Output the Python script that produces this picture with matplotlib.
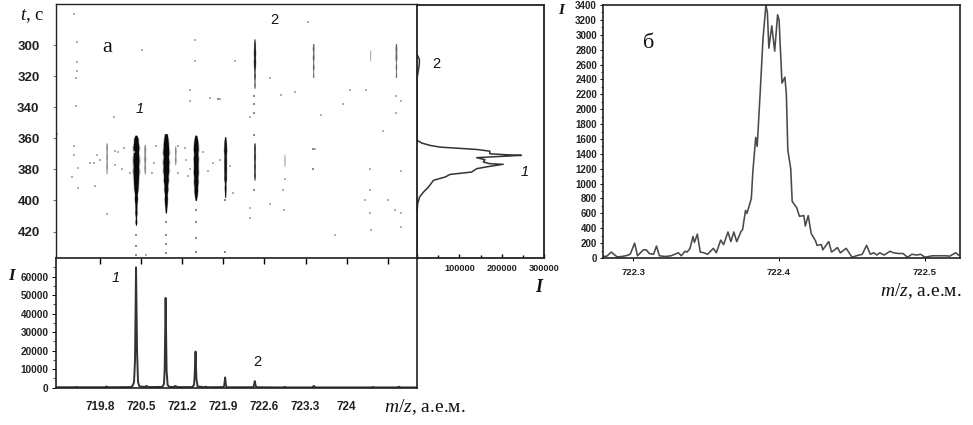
import matplotlib
matplotlib.use("Agg")
import matplotlib.pyplot as plt

plt.rcParams['font.family'] = ['Liberation Sans', 'DejaVu Sans']
plt.rcParams['mathtext.fontset'] = 'custom'
plt.rcParams['mathtext.it'] = 'Liberation Serif:italic'
plt.rcParams['mathtext.rm'] = 'Liberation Serif'

W, H = 973, 425

# heat map: m/z centre, grey, t list, half width list of each streak
streak_mz = [720.41, 720.92, 721.43, 721.93, 722.43, 722.43, 723.43, 724.40, 724.84, 719.91, 720.56, 721.08, 722.94]
streak_grey = ['#0a0a0a', '#0a0a0a', '#0a0a0a', '#141414', '#222222', '#2a2a2a', '#666666', '#aaaaaa', '#666666',
               '#8a8a8a', '#8a8a8a', '#8a8a8a', '#a5a5a5']
streak_t = [
    [358, 360, 363, 366, 369, 372, 375, 378, 381, 384, 387, 390, 393, 396, 399, 402, 405, 408, 411, 414, 416],
    [357, 360, 363, 366, 369, 372, 375, 378, 381, 384, 387, 390, 393, 396, 399, 402, 405, 408],
    [358, 361, 364, 367, 370, 373, 376, 379, 382, 385, 388, 391, 394, 397, 400],
    [359, 362, 365, 368, 371, 374, 377, 380, 383, 386, 389, 392, 395, 398],
    [296, 299, 302, 305, 308, 311, 314, 317, 320, 323, 326, 328],
    [363, 366, 369, 372, 375, 378, 381, 384, 387],
    [299, 302, 305, 308, 311, 314, 317, 320, 321],
    [303, 306, 310],
    [299, 302, 305, 308, 311, 314, 317, 320, 321],
    [363, 366, 369, 372, 375, 378, 381, 383],
    [364, 367, 370, 373, 376, 379, 383],
    [365, 368, 371, 374, 377],
    [370, 374, 378],
]
streak_hw = [
    [0.015, 0.035, 0.04, 0.052, 0.042, 0.05, 0.052, 0.045, 0.052, 0.045, 0.042, 0.038, 0.034, 0.022, 0.026, 0.018, 0.015, 0.018, 0.009, 0.015, 0.005],
    [0.022, 0.034, 0.042, 0.045, 0.052, 0.042, 0.052, 0.045, 0.05, 0.038, 0.042, 0.03, 0.034, 0.022, 0.026, 0.022, 0.015, 0.009],
    [0.015, 0.03, 0.038, 0.042, 0.034, 0.042, 0.038, 0.038, 0.042, 0.034, 0.038, 0.03, 0.03, 0.022, 0.009],
    [0.009, 0.019, 0.022, 0.026, 0.019, 0.022, 0.021, 0.022, 0.019, 0.022, 0.011, 0.015, 0.011, 0.008],
    [0.006, 0.014, 0.015, 0.019, 0.015, 0.019, 0.015, 0.009, 0.012, 0.006, 0.009, 0.003],
    [0.009, 0.014, 0.012, 0.015, 0.011, 0.014, 0.011, 0.014, 0.005],
    [0.008, 0.015, 0.009, 0.015, 0.006, 0.014, 0.006, 0.011, 0.003],
    [0.006, 0.009, 0.006],
    [0.008, 0.015, 0.011, 0.016, 0.006, 0.012, 0.006, 0.011, 0.003],
    [0.008, 0.014, 0.009, 0.014, 0.009, 0.014, 0.008, 0.005],
    [0.009, 0.016, 0.012, 0.018, 0.011, 0.015, 0.006],
    [0.008, 0.014, 0.009, 0.014, 0.005],
    [0.005, 0.011, 0.006],
]

speck_mz = [719.35, 719.40, 719.41, 719.40, 719.39, 719.39, 719.06, 719.05, 719.35, 719.35, 719.43, 719.32, 719.43,
            719.69, 719.72, 719.91, 720.03, 720.51, 721.42, 721.42, 722.10, 721.33, 721.33, 721.81, 721.84, 721.67,
            722.35, 722.69, 722.89, 723.12, 723.34, 723.57, 723.94, 724.05, 724.33, 724.84, 724.93, 724.84, 724.62,
            723.46, 723.43, 724.39, 724.93, 722.95, 722.92, 724.40, 722.69, 722.36, 722.36, 722.93, 724.32, 724.70,
            724.82, 724.93, 724.39, 723.81, 724.42, 724.93, 720.59,
            720.06, 720.11, 720.20, 720.37, 719.63, 719.74, 719.80, 720.06, 720.17, 720.31, 720.68, 720.71, 720.76,
            721.13, 721.24, 721.27, 721.13, 721.33, 721.30, 721.56, 721.64, 721.73, 721.84, 722.01, 722.07]
speck_t = [280, 298, 311, 317, 321, 339, 357, 399, 365, 371, 379, 385, 392,
           376, 391, 409, 346, 303, 297, 310, 310, 329, 336, 335, 335, 334,
           346, 321, 332, 330, 285, 345, 338, 329, 329, 333, 336, 344, 355,
           367, 380, 380, 381, 386, 393, 393, 402, 405, 411, 406, 400, 400,
           406, 408, 408, 422, 419, 417, 435,
           368, 369, 366, 369, 376, 371, 374, 377, 380, 382, 382, 376, 365,
           365, 366, 374, 382, 380, 384, 369, 381, 376, 374, 378, 395]
tail_mz = [720.41, 720.41, 720.41, 720.92, 720.92, 720.92, 720.92, 721.43, 721.43, 721.43, 721.43, 721.93, 721.93,
           722.43, 722.43, 722.43, 722.43, 723.43, 723.43, 721.81, 722.43]
tail_t = [422, 429, 435, 414, 422, 428, 434, 406, 414, 424, 433, 400, 433,
          333, 338, 344, 358, 380, 367, 335, 393]

t_ticks = [300, 320, 340, 360, 380, 400, 420]

# m/z spectrum of the whole run
spec_mz = [719.04, 719.38, 719.40, 719.42, 719.88, 719.91, 719.94, 720.32, 720.35, 720.378, 720.395, 720.412, 720.429,
           720.446, 720.469, 720.56, 720.59, 720.62, 720.86, 720.888, 720.90, 720.916, 720.933, 720.95, 720.973,
           721.05, 721.08, 721.12, 721.37, 721.40, 721.41, 721.426, 721.44, 721.46, 721.57, 721.60, 721.63,
           721.90, 721.915, 721.93, 721.945, 721.96, 722.40, 722.42, 722.435, 722.45, 722.47, 722.92, 722.945,
           722.97, 723.41, 723.44, 723.47, 724.42, 724.45, 724.48, 724.86, 724.89, 724.92, 725.19]
spec_i = [200, 200, 400, 200, 200, 600, 200, 300, 800, 3000, 15000, 65000, 20000,
          3000, 700, 400, 900, 300, 400, 2000, 10000, 48500, 9000, 1500, 500,
          300, 900, 300, 300, 1500, 6000, 19500, 5000, 700, 200, 500, 200,
          300, 1200, 5500, 1000, 200, 200, 1000, 3500, 900, 200, 100, 400,
          100, 100, 900, 100, 100, 300, 100, 100, 500, 100, 100]
spec_yticks = [0, 10000, 20000, 30000, 40000, 50000, 60000]
mz_ticks = [719.8, 720.5, 721.2, 721.9, 722.6, 723.3, 724.0, 724.7]
mz_labels = ['719.8', '720.5', '721.2', '721.9', '722.6', '723.3', '724', '']

# total ion current against time
tic_i = [0, 5500, 5500, 0, 0, 0, 11700, 31300, 54800, 101800, 141000, 172000, 172000, 211000, 246600, 211000, 141000,
         160500, 156600, 172000, 203600, 172000, 141000, 129000, 78300, 66500, 39000, 27400, 15700, 6300, 1600, 0, 0]
tic_t = [305.4, 308.6, 311.8, 321.4, 340, 361, 362.8, 364.3, 365.4, 366.2, 366.9, 368, 369.7, 370.3, 370.7, 371.2,
         372.2, 373.5, 375, 376.1, 376.5, 377.8, 379.3, 381.5, 383, 384.7, 386.8, 391.1, 394.3, 397.5, 401.8, 408.3, 436]
tic_ticks = [0, 100000, 200000, 300000]
tic_labels = ['', '100000', '200000', '300000']

# high resolution peak
peak_mz = [722.279, 722.282, 722.285, 722.289, 722.292, 722.295, 722.298, 722.301, 722.303, 722.307, 722.309, 722.311,
           722.314, 722.316, 722.318, 722.322, 722.326, 722.331, 722.333, 722.3355, 722.337, 722.339, 722.341, 722.342,
           722.344, 722.346, 722.3485, 722.351, 722.355, 722.357, 722.360, 722.362, 722.365, 722.367, 722.369, 722.371,
           722.374, 722.375, 722.377, 722.378, 722.381, 722.382, 722.384, 722.385, 722.387, 722.389, 722.391, 722.392,
           722.393, 722.395, 722.397, 722.399, 722.400, 722.402, 722.404, 722.405, 722.406, 722.408, 722.409, 722.412,
           722.414, 722.417, 722.418, 722.420, 722.422, 722.425, 722.426, 722.429, 722.430, 722.434, 722.436, 722.440,
           722.442, 722.446, 722.450, 722.453, 722.457, 722.460, 722.4625, 722.465, 722.467, 722.469, 722.472, 722.476,
           722.4785, 722.482, 722.485, 722.488, 722.491, 722.4945, 722.497, 722.500, 722.505, 722.509, 722.514, 722.517,
           722.521, 722.523]
peak_i = [20, 25, 80, 15, 20, 30, 50, 200, 30, 110, 110, 60,
          50, 160, 30, 20, 30, 70, 30, 90, 80, 130, 290, 210,
          320, 80, 70, 50, 130, 70, 240, 180, 350, 220, 350, 220,
          360, 380, 640, 600, 800, 1150, 1620, 1500, 2200, 2950, 3400, 3300,
          2820, 3120, 2780, 3270, 3200, 2350, 2430, 2200, 1450, 1200, 760, 680,
          560, 570, 430, 570, 330, 230, 170, 180, 110, 220, 80, 140,
          70, 130, 10, 30, 50, 170, 50, 70, 40, 70, 40, 90,
          70, 60, 60, 10, 50, 40, 50, 10, 30, 30, 30, 25,
          70, 40]
peak_xticks = [722.3, 722.4, 722.5]
peak_yticks = list(range(0, 3401, 200))


def axes_px(x0, y0, x1, y1):
    return fig.add_axes([x0 / W, 1 - y1 / H, (x1 - x0) / W, (y1 - y0) / H])


def thick(ax, lw=1.3, color='#222222'):
    for s in ax.spines.values():
        s.set_linewidth(lw)
        s.set_color(color)


fig = plt.figure(figsize=(W / 100, H / 100), dpi=100)
xlim = (719.04, 725.19)
tlim = (437, 273.6)

# heat map, a wider pale copy under each streak softens the edge
ax = axes_px(55.5, 4, 416.5, 258)
for mz, grey, t, hw in zip(streak_mz, streak_grey, streak_t, streak_hw):
    ax.fill_betweenx(t, [mz - w * 1.35 for w in hw], [mz + w * 1.35 for w in hw], color=grey, alpha=0.25, lw=0)
    ax.fill_betweenx(t, [mz - w for w in hw], [mz + w for w in hw], color=grey, lw=0)
ax.scatter(speck_mz, speck_t, s=3, marker='s', color='#b0b0b0', lw=0)
ax.scatter(tail_mz, tail_t, s=4, marker='s', color='#8a8a8a', lw=0)
ax.set_xlim(xlim)
ax.set_ylim(tlim)
ax.set_xticks([])
ax.set_yticks(t_ticks)
ax.tick_params(axis='y', length=2, width=0.6, pad=9.5, labelsize=9.5, color='#555555')
for lab in ax.get_yticklabels():
    lab.set_fontweight('bold')
    lab.set_color('#222222')
thick(ax, 1.0)

# spectrum below
ax2 = axes_px(55.5, 258, 416.5, 388)
ax2.plot(spec_mz, spec_i, color='#333333', lw=1.4)
ax2.set_xlim(xlim)
ax2.set_ylim(-200, 70100)
ax2.set_xticks(mz_ticks)
ax2.set_xticklabels(mz_labels, fontsize=8.5, fontweight='bold', color='#222222')
ax2.tick_params(axis='x', direction='in', top=True, bottom=False, length=4, width=1, pad=9)
ax2.set_yticks(spec_yticks)
ax2.set_yticks([v + 5000 for v in spec_yticks], minor=True)
ax2.set_yticklabels([str(v) for v in spec_yticks], fontsize=7.2, fontweight='bold', color='#222222')
ax2.tick_params(axis='y', length=3, width=0.7, pad=2)
ax2.tick_params(axis='y', which='minor', length=2, width=0.5)
thick(ax2, 1.2)

# time profile on the right
ax3 = axes_px(417, 5, 544, 258)
ax3.plot(tic_i, tic_t, color='#333333', lw=1.1)
ax3.set_xlim(0, 300000)
ax3.set_ylim(tlim)
ax3.set_yticks([])
ax3.set_xticks(tic_ticks)
ax3.set_xticks([50000, 150000, 250000], minor=True)
ax3.set_xticklabels(tic_labels, fontsize=6.6, fontweight='bold', color='#222222')
ax3.tick_params(axis='x', direction='in', length=3, width=1, pad=4)
ax3.tick_params(axis='x', which='minor', direction='in', length=2, width=1)
thick(ax3, 1.3)

# high resolution panel
ax4 = axes_px(602.5, 5, 960, 258)
ax4.plot(peak_mz, peak_i, color='#4a4a4a', lw=1.15)
ax4.set_xlim(722.279, 722.524)
ax4.set_ylim(0, 3400)
ax4.set_xticks(peak_xticks)
ax4.set_xticklabels(['722.3', '722.4', '722.5'], fontsize=6.8, fontweight='bold', color='#222222')
ax4.tick_params(axis='x', length=2, width=0.7, pad=5)
ax4.set_yticks(peak_yticks)
ax4.set_yticks([v + 100 for v in peak_yticks[:-1]], minor=True)
ax4.set_yticklabels([str(v) for v in peak_yticks], fontsize=7, fontweight='bold', color='#222222')
ax4.tick_params(axis='y', length=2.5, width=0.7, pad=1.5)
ax4.tick_params(axis='y', which='minor', length=1.5, width=0.5)
thick(ax4, 1.2)

# loose labels, placed in figure pixels
serif = ['Liberation Serif', 'DejaVu Serif']


def label(x, y, s, size, family=None, style='normal', weight='normal'):
    fig.text(x / W, 1 - y / H, s, fontsize=size, family=family or ['Liberation Sans', 'DejaVu Sans'],
             style=style, weight=weight, ha='center', va='center', color='#111111')


label(32, 16, '$t$, с', 13.5, serif)
label(107, 47, 'а', 16, serif)
label(140, 109, '1', 10.5, style='italic')
label(274, 20, '2', 10.5)
label(436, 64, '2', 10.5)
label(525, 172, '1', 10.5, style='italic')
label(539, 287, 'I', 13, serif, style='italic', weight='bold')
label(116, 278, '1', 10.5, style='italic')
label(257, 362, '2', 10.5)
label(11, 276, 'I', 12, serif, style='italic', weight='bold')
label(425, 407, '$m/z$, а.е.м.', 14, serif)
label(561, 10, 'I', 11, serif, style='italic', weight='bold')
label(649, 43, 'б', 16, serif)
label(921, 291, '$m/z$, а.е.м.', 14, serif)

fig.savefig('out.png', dpi=100)
